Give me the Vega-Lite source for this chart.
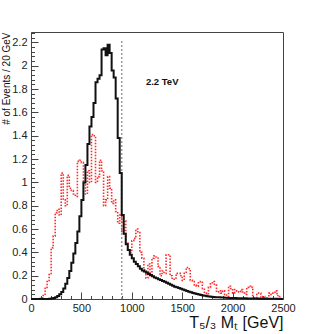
{
  "$schema": "https://vega.github.io/schema/vega-lite/v6.json",
  "autosize": {"type": "none"},
  "padding": {"left": 31, "top": 32, "right": 32, "bottom": 35},
  "width": 252,
  "height": 267,
  "config": {
    "font": "Liberation Sans",
    "view": {"stroke": "#444", "strokeWidth": 1},
    "axis": {"labelColor": "#222", "labelFontSize": 11, "tickColor": "#444", "domainColor": "#444", "grid": false, "labelFlush": false, "labelOverlap": false}
  },
  "datasets": {
    "bkg": [
      {"x":0,"y":0},{"x":20,"y":0},{"x":40,"y":0},{"x":60,"y":0},{"x":80,"y":0.005},{"x":100,"y":0.01},{"x":120,"y":0.03},{"x":140,"y":0.1},{"x":160,"y":0.15},{"x":180,"y":0.21},{"x":200,"y":0.44},{"x":220,"y":0.54},{"x":240,"y":0.74},{"x":260,"y":0.77},{"x":280,"y":0.72},{"x":300,"y":1.08},{"x":320,"y":0.85},{"x":340,"y":0.8},{"x":360,"y":1.06},{"x":380,"y":0.95},{"x":400,"y":0.93},{"x":420,"y":0.9},{"x":440,"y":0.88},{"x":460,"y":1.18},{"x":480,"y":1.19},{"x":500,"y":1.17},{"x":520,"y":1.0},{"x":540,"y":0.9},{"x":560,"y":1.1},{"x":580,"y":1.0},{"x":600,"y":1.41},{"x":620,"y":1.4},{"x":640,"y":1.0},{"x":660,"y":1.05},{"x":680,"y":1.19},{"x":700,"y":1.1},{"x":720,"y":0.8},{"x":740,"y":0.85},{"x":760,"y":1.05},{"x":780,"y":0.95},{"x":800,"y":0.82},{"x":820,"y":0.85},{"x":840,"y":0.75},{"x":860,"y":0.65},{"x":880,"y":0.72},{"x":900,"y":0.58},{"x":920,"y":0.67},{"x":940,"y":0.48},{"x":960,"y":0.42},{"x":980,"y":0.4},{"x":1000,"y":0.5},{"x":1020,"y":0.52},{"x":1040,"y":0.6},{"x":1060,"y":0.57},{"x":1080,"y":0.4},{"x":1100,"y":0.35},{"x":1120,"y":0.25},{"x":1140,"y":0.18},{"x":1160,"y":0.3},{"x":1180,"y":0.2},{"x":1200,"y":0.35},{"x":1220,"y":0.37},{"x":1240,"y":0.36},{"x":1260,"y":0.28},{"x":1280,"y":0.2},{"x":1300,"y":0.24},{"x":1320,"y":0.22},{"x":1340,"y":0.38},{"x":1360,"y":0.38},{"x":1380,"y":0.2},{"x":1400,"y":0.17},{"x":1420,"y":0.18},{"x":1440,"y":0.22},{"x":1460,"y":0.22},{"x":1480,"y":0.2},{"x":1500,"y":0.16},{"x":1520,"y":0.22},{"x":1540,"y":0.27},{"x":1560,"y":0.26},{"x":1580,"y":0.16},{"x":1600,"y":0.15},{"x":1620,"y":0.12},{"x":1640,"y":0.11},{"x":1660,"y":0.14},{"x":1680,"y":0.15},{"x":1700,"y":0.09},{"x":1720,"y":0.05},{"x":1740,"y":0.03},{"x":1760,"y":0.1},{"x":1780,"y":0.13},{"x":1800,"y":0.15},{"x":1820,"y":0.12},{"x":1840,"y":0.06},{"x":1860,"y":0.07},{"x":1880,"y":0.05},{"x":1900,"y":0.07},{"x":1920,"y":0.04},{"x":1940,"y":0.01},{"x":1960,"y":0.11},{"x":1980,"y":0.09},{"x":2000,"y":0.05},{"x":2020,"y":0.08},{"x":2040,"y":0.07},{"x":2060,"y":0.06},{"x":2080,"y":0.08},{"x":2100,"y":0.05},{"x":2120,"y":0.04},{"x":2140,"y":0.1},{"x":2160,"y":0.11},{"x":2180,"y":0.1},{"x":2200,"y":0.0},{"x":2220,"y":0.01},{"x":2240,"y":0.05},{"x":2260,"y":0.05},{"x":2280,"y":0.0},{"x":2300,"y":0.02},{"x":2320,"y":0.01},{"x":2340,"y":0.0},{"x":2360,"y":0.05},{"x":2380,"y":0.04},{"x":2400,"y":0.05},{"x":2420,"y":0.07},{"x":2440,"y":0.03},{"x":2460,"y":0.02},{"x":2480,"y":0.0},{"x":2500,"y":0.0}
    ],
    "sig": [
      {"x":0,"y":0},{"x":20,"y":0},{"x":40,"y":0},{"x":60,"y":0},{"x":80,"y":0},{"x":100,"y":0},{"x":120,"y":0},{"x":140,"y":0},{"x":160,"y":0.001},{"x":180,"y":0.002},{"x":200,"y":0.004},{"x":220,"y":0.008},{"x":240,"y":0.014},{"x":260,"y":0.025},{"x":280,"y":0.04},{"x":300,"y":0.06},{"x":320,"y":0.09},{"x":340,"y":0.13},{"x":360,"y":0.18},{"x":380,"y":0.24},{"x":400,"y":0.31},{"x":420,"y":0.39},{"x":440,"y":0.48},{"x":460,"y":0.58},{"x":480,"y":0.71},{"x":500,"y":0.85},{"x":520,"y":1.0},{"x":540,"y":1.15},{"x":560,"y":1.33},{"x":580,"y":1.48},{"x":600,"y":1.56},{"x":620,"y":1.68},{"x":640,"y":1.86},{"x":660,"y":1.89},{"x":680,"y":1.92},{"x":700,"y":2.14},{"x":720,"y":2.15},{"x":740,"y":2.09},{"x":760,"y":2.18},{"x":780,"y":2.11},{"x":800,"y":1.96},{"x":820,"y":1.9},{"x":840,"y":1.72},{"x":860,"y":1.38},{"x":880,"y":1.08},{"x":900,"y":0.72},{"x":920,"y":0.56},{"x":940,"y":0.47},{"x":960,"y":0.42},{"x":980,"y":0.38},{"x":1000,"y":0.35},{"x":1020,"y":0.32},{"x":1040,"y":0.3},{"x":1060,"y":0.28},{"x":1080,"y":0.26},{"x":1100,"y":0.245},{"x":1120,"y":0.235},{"x":1140,"y":0.225},{"x":1160,"y":0.215},{"x":1180,"y":0.205},{"x":1200,"y":0.195},{"x":1220,"y":0.185},{"x":1240,"y":0.178},{"x":1260,"y":0.17},{"x":1280,"y":0.163},{"x":1300,"y":0.155},{"x":1320,"y":0.147},{"x":1340,"y":0.14},{"x":1360,"y":0.13},{"x":1380,"y":0.122},{"x":1400,"y":0.113},{"x":1420,"y":0.106},{"x":1440,"y":0.1},{"x":1460,"y":0.094},{"x":1480,"y":0.088},{"x":1500,"y":0.082},{"x":1520,"y":0.075},{"x":1540,"y":0.068},{"x":1560,"y":0.062},{"x":1580,"y":0.057},{"x":1600,"y":0.052},{"x":1620,"y":0.047},{"x":1640,"y":0.042},{"x":1660,"y":0.038},{"x":1680,"y":0.034},{"x":1700,"y":0.03},{"x":1720,"y":0.027},{"x":1740,"y":0.024},{"x":1760,"y":0.022},{"x":1780,"y":0.02},{"x":1800,"y":0.018},{"x":1820,"y":0.016},{"x":1840,"y":0.015},{"x":1860,"y":0.014},{"x":1880,"y":0.013},{"x":1900,"y":0.012},{"x":1920,"y":0.011},{"x":1940,"y":0.01},{"x":1960,"y":0.009},{"x":1980,"y":0.009},{"x":2000,"y":0.008},{"x":2020,"y":0.008},{"x":2040,"y":0.007},{"x":2060,"y":0.007},{"x":2080,"y":0.006},{"x":2100,"y":0.006},{"x":2120,"y":0.006},{"x":2140,"y":0.005},{"x":2160,"y":0.005},{"x":2180,"y":0.005},{"x":2200,"y":0.004},{"x":2220,"y":0.004},{"x":2240,"y":0.004},{"x":2260,"y":0.003},{"x":2280,"y":0.003},{"x":2300,"y":0.003},{"x":2320,"y":0.003},{"x":2340,"y":0.002},{"x":2360,"y":0.002},{"x":2380,"y":0.002},{"x":2400,"y":0.002},{"x":2420,"y":0.002},{"x":2440,"y":0.001},{"x":2460,"y":0.001},{"x":2480,"y":0.001},{"x":2500,"y":0.001}
    ],
    "cut": [{"x": 900, "y": 0, "y2": 2.23}],
    "note": [{"x": 1140, "y": 1.86, "label": "2.2 TeV"}]
  },
  "resolve": {"axis": {"x": "independent", "y": "independent"}},
  "layer": [
    {
      "data": {"name": "cut"},
      "mark": {"type": "rule", "color": "#999", "strokeWidth": 1.5, "strokeDash": [2, 2]},
      "encoding": {
        "x": {"field": "x", "type": "quantitative", "axis": null, "scale": {"domain": [0, 2500], "nice": false, "zero": false}},
        "y": {"field": "y", "type": "quantitative", "axis": null, "scale": {"domain": [0, 2.29], "nice": false}},
        "y2": {"field": "y2"}
      }
    },
    {
      "data": {"name": "bkg"},
      "mark": {"type": "line", "interpolate": "step-after", "color": "#ff2a2a", "strokeWidth": 1.6, "strokeDash": [1.5, 1.5]},
      "encoding": {
        "x": {"field": "x", "type": "quantitative", "scale": {"domain": [0, 2500], "nice": false, "zero": false},
          "axis": {"orient": "bottom", "values": [100,200,300,400,600,700,800,900,1100,1200,1300,1400,1600,1700,1800,1900,2100,2200,2300,2400], "tickSize": -3.5, "labels": false, "domain": false, "title": null}},
        "y": {"field": "y", "type": "quantitative", "scale": {"domain": [0, 2.29], "nice": false},
          "axis": {"orient": "left", "values": [0.04,0.08,0.12,0.16,0.24,0.28,0.32,0.36,0.44,0.48,0.52,0.56,0.64,0.68,0.72,0.76,0.84,0.88,0.92,0.96,1.04,1.08,1.12,1.16,1.24,1.28,1.32,1.36,1.44,1.48,1.52,1.56,1.64,1.68,1.72,1.76,1.84,1.88,1.92,1.96,2.04,2.08,2.12,2.16,2.24,2.28], "tickSize": -3.5, "labels": false, "domain": false, "title": null}}
      }
    },
    {
      "data": {"name": "sig"},
      "mark": {"type": "line", "interpolate": "step-after", "color": "#111", "strokeWidth": 2},
      "encoding": {
        "x": {"field": "x", "type": "quantitative", "scale": {"domain": [0, 2500], "nice": false, "zero": false},
          "axis": {"orient": "bottom", "values": [0, 500, 1000, 1500, 2000, 2500], "format": "d", "tickSize": -7, "labelPadding": 10, "title": "T₅/₃ Mₜ  [GeV]", "titleFontSize": 16, "titleFontWeight": "normal", "titleColor": "#111", "titleX": 252, "titleY": 28, "titleAlign": "right", "titleBaseline": "alphabetic"}},
        "y": {"field": "y", "type": "quantitative", "scale": {"domain": [0, 2.29], "nice": false},
          "axis": {"orient": "left", "values": [0, 0.2, 0.4, 0.6, 0.8, 1, 1.2, 1.4, 1.6, 1.8, 2, 2.2], "format": "~g", "tickSize": -7, "labelPadding": 11, "title": "# of Events / 20 GeV", "titleFontSize": 10, "titleFontWeight": "normal", "titleColor": "#111", "titleX": -22, "titleY": 0, "titleAlign": "right", "titleBaseline": "alphabetic", "titleAngle": -90}}
      }
    },
    {
      "data": {"name": "note"},
      "mark": {"type": "text", "fontWeight": "bold", "fontSize": 9.5, "align": "left", "baseline": "middle", "color": "#111"},
      "encoding": {
        "x": {"field": "x", "type": "quantitative", "axis": null},
        "y": {"field": "y", "type": "quantitative", "axis": null},
        "text": {"field": "label"}
      }
    }
  ]
}
